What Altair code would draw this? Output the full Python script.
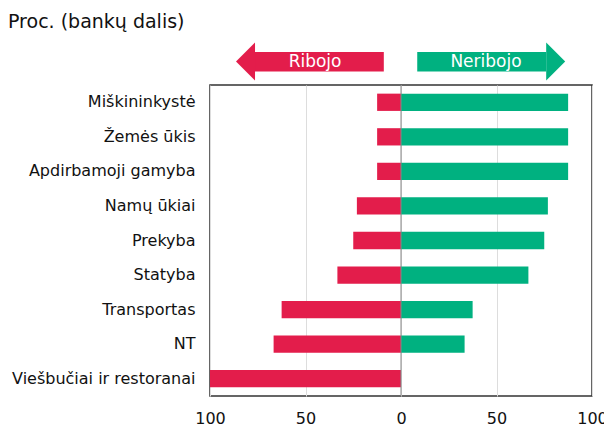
import altair as alt
import pandas as pd

categories = ["Miškininkystė", "Žemės ūkis", "Apdirbamoji gamyba", "Namų ūkiai",
              "Prekyba", "Statyba", "Transportas", "NT", "Viešbučiai ir restoranai"]
ribojo = [12.5, 12.5, 12.5, 23.1, 25.0, 33.3, 62.5, 66.7, 100.0]
neribojo = [87.5, 87.5, 87.5, 76.9, 75.0, 66.7, 37.5, 33.3, 0.0]
x_ticks = [-100, -50, 0, 50, 100]

RED = "#E31D4B"
GREEN = "#00B180"
FONT = "DejaVu Sans"

rows = []
for c, r, n in zip(categories, ribojo, neribojo):
    rows.append({"cat": c, "series": "Ribojo", "value": -r})
    rows.append({"cat": c, "series": "Neribojo", "value": n})
df = pd.DataFrame(rows)

xscale = alt.Scale(domain=[-100, 100], nice=False, zero=False)

bars = alt.Chart(df).mark_bar(opacity=1).encode(
    y=alt.Y("cat:N", sort=categories,
            scale=alt.Scale(paddingInner=0.5, paddingOuter=0.25),
            axis=alt.Axis(title=None, domain=False, ticks=False, labelPadding=15,
                          labelFontSize=16, labelFont=FONT, labelColor="#111",
                          labelLimit=400)),
    x=alt.X("value:Q", stack=None, scale=xscale,
            axis=alt.Axis(values=x_ticks, title=None, domain=False, ticks=False,
                          labelExpr="abs(datum.value)", labelFontSize=16, labelFont=FONT,
                          labelColor="#111", labelPadding=14, grid=True,
                          gridColor="#dddddd", labelFlush=False)),
    color=alt.Color("series:N", scale=alt.Scale(domain=["Ribojo", "Neribojo"], range=[RED, GREEN]),
                    legend=None),
)

zero = alt.Chart(pd.DataFrame({"x": [0]})).mark_rule(color="#888888", strokeWidth=1).encode(
    x=alt.X("x:Q", scale=xscale))

# arrows (annotations)
arrow_df = pd.DataFrame({
    "label": ["Ribojo", "Neribojo"],
    "b0": [-77, 8.5],
    "b1": [-9, 76],
    "head": [-81.4, 81.0],
    "tx": [-45, 44.5],
})
body = alt.Chart(arrow_df).mark_rect().encode(
    x=alt.X("b0:Q", scale=xscale), x2="b1",
    y=alt.value(-33), y2=alt.value(-13.6),
    color=alt.Color("label:N", scale=alt.Scale(domain=["Ribojo", "Neribojo"], range=[RED, GREEN]), legend=None),
)
head_l = alt.Chart(arrow_df[arrow_df.label == "Ribojo"]).mark_point(
    shape="M0.5,-1 L-0.5,0 L0.5,1 Z", size=1444, filled=True, opacity=1, strokeWidth=0, color=RED
).encode(x=alt.X("head:Q", scale=xscale), y=alt.value(-23.6))
head_r = alt.Chart(arrow_df[arrow_df.label == "Neribojo"]).mark_point(
    shape="M-0.5,-1 L0.5,0 L-0.5,1 Z", size=1444, filled=True, opacity=1, strokeWidth=0, color=GREEN
).encode(x=alt.X("head:Q", scale=xscale), y=alt.value(-23.6))
atext = alt.Chart(arrow_df).mark_text(color="white", fontSize=17, font=FONT, baseline="middle", align="center").encode(
    x=alt.X("tx:Q", scale=xscale), y=alt.value(-23), text="label:N")

title = alt.Chart(pd.DataFrame({"t": ["Proc. (bankų dalis)"]})).mark_text(
    align="left", baseline="middle", fontSize=19, font=FONT, color="#111"
).encode(x=alt.value(-202), y=alt.value(-63), text="t:N")

chart = alt.layer(bars, zero, body, head_l, head_r, atext, title).properties(
    width=382, height=311,
    padding={"left": 202, "top": 77, "right": 12, "bottom": 30},
    autosize=alt.AutoSizeParams(type="none"),
).configure_view(stroke="#333333", strokeWidth=1.5)

chart.save("out.html", embed_options={"renderer": "svg", "actions": False})
